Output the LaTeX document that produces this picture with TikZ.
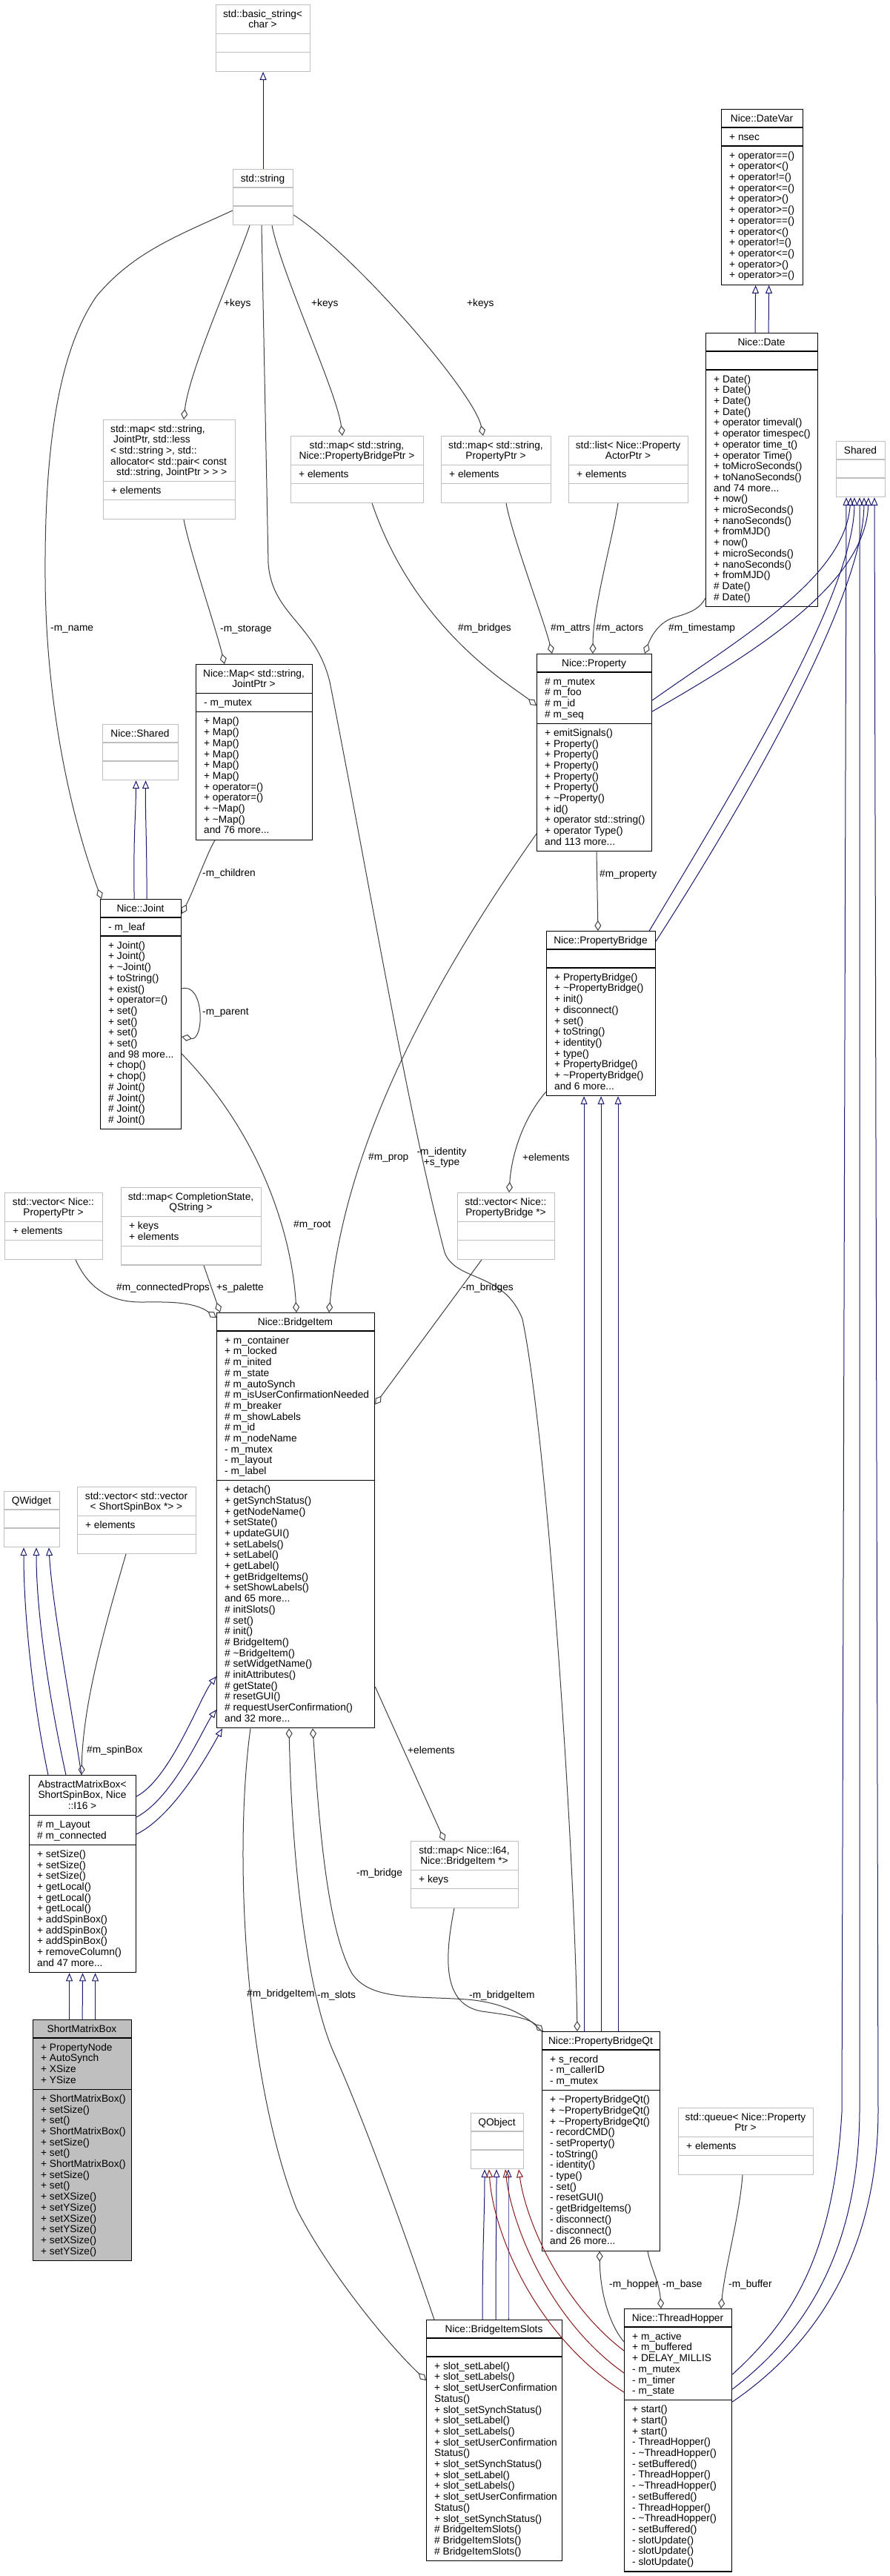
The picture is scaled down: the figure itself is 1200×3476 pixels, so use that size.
\documentclass[tikz,border=0pt]{standalone}
\usepackage{fontspec}
\setmainfont{Liberation Sans}
\usetikzlibrary{arrows.meta,calc}
\definecolor{midblue}{HTML}{191970}
\definecolor{firered}{HTML}{8B1A1A}
\definecolor{edgegray}{HTML}{404040}
\definecolor{boxgray}{HTML}{BFBFBF}
\newcommand\umlbox[9]{%
  \pgfmathsetmacro\ubA{#3+ifthenelse(#5==0,25,10.3+14.7*#5)}%
  \pgfmathsetmacro\ubB{\ubA+ifthenelse(#6==0,25,10.3+14.7*#6)}%
  \pgfmathsetmacro\ubC{\ubB+ifthenelse(#7==0,25,10.3+14.7*#7)}%
  \pgfmathsetmacro\ubW{#4-#2}%
  \pgfmathsetmacro\ubH{\ubC-#3}%
  \node[#8, minimum width=\ubW pt, minimum height=\ubH pt, anchor=north west] (#1) at (#2,#3) {};
  \draw[#8ln] (#2,\ubA) -- (#4,\ubA) (#2,\ubB) -- (#4,\ubB);
  \node[txt, anchor=north, align=center] (#1-t) at ({(#2+#4)/2},{#3+6.7}) {\strut #9};
  \coordinate (#1-a) at ({#2+11},{\ubA+6.7});
  \coordinate (#1-m) at ({#2+11},{\ubB+6.7});
}
\newcommand\umlattr[2]{\node[txt, anchor=north west, align=left] (#1-at) at (#1-a) {\strut #2};}
\newcommand\umlmeth[2]{\node[txt, anchor=north west, align=left] (#1-mt) at (#1-m) {\strut #2};}
\begin{document}
\begin{tikzpicture}[x=1pt,y=-1pt,
  txt/.style={inner sep=0pt, font=\fontsize{13.7}{14.7}\selectfont},
  lbl/.style={txt, anchor=west},
  clsdoc/.style={draw=black, fill=white, line width=1.2pt, rectangle, inner sep=0pt},
  clsdocln/.style={draw=black, line width=1.2pt},
  clsext/.style={draw=boxgray, fill=white, line width=1.2pt, rectangle, inner sep=0pt},
  clsextln/.style={draw=boxgray, line width=1.2pt},
  clsmain/.style={draw=black, fill=boxgray, line width=1.2pt, rectangle, inner sep=0pt},
  clsmainln/.style={draw=black, line width=1.2pt},
  inh/.style={draw=midblue, line width=1pt, -{Triangle[open, length=11pt, width=9pt]}},
  inhp/.style={draw=firered, line width=1pt, -{Triangle[open, length=11pt, width=9pt]}},
  agg/.style={draw=edgegray, line width=1pt, {Diamond[open, length=14pt, width=9pt]}-},
  plainedge/.style={draw=edgegray, line width=1pt},
]
\fill[white] (0,0) rectangle (1200,3476);
\useasboundingbox (0,0) rectangle (1200,3476);

% ---------------- boxes ----------------
\umlbox{bstr}{291}{6}{418}{2}{0}{0}{clsext}{std::basic\_string<\\char >}
\umlbox{str}{314}{228}{395}{1}{0}{0}{clsext}{std::string}

\umlbox{datevar}{973}{147}{1083}{1}{1}{12}{clsdoc}{Nice::DateVar}
\umlattr{datevar}{+ nsec}
\umlmeth{datevar}{+ operator==()\\+ operator<()\\+ operator!=()\\+ operator<=()\\+ operator>()\\+ operator>=()\\+ operator==()\\+ operator<()\\+ operator!=()\\+ operator<=()\\+ operator>()\\+ operator>=()}

\umlbox{date}{952}{449}{1103}{1}{0}{21}{clsdoc}{Nice::Date}
\umlmeth{date}{+ Date()\\+ Date()\\+ Date()\\+ Date()\\+ operator timeval()\\+ operator timespec()\\+ operator time\_t()\\+ operator Time()\\+ toMicroSeconds()\\+ toNanoSeconds()\\and 74 more...\\+ now()\\+ microSeconds()\\+ nanoSeconds()\\+ fromMJD()\\+ now()\\+ microSeconds()\\+ nanoSeconds()\\+ fromMJD()\\\# Date()\\\# Date()}

\umlbox{shared}{1128}{595}{1194}{1}{0}{0}{clsext}{Shared}

\umlbox{mapj}{139}{566}{317}{5}{1}{0}{clsext}{}
\node[txt, anchor=north west, align=left] (mapj-tt) at ($(mapj.north west)+(10,6.7)$) {\strut std::map< std::string,\\\hspace*{4pt}JointPtr, std::less\\< std::string >, std::\\allocator< std::pair< const\\\hspace*{8pt}std::string, JointPtr > > >};
\umlattr{mapj}{+ elements}

\umlbox{mappb}{392}{588}{571}{2}{1}{0}{clsext}{std::map< std::string,\\ Nice::PropertyBridgePtr >}
\umlattr{mappb}{+ elements}
\umlbox{mapp}{595}{588}{743}{2}{1}{0}{clsext}{std::map< std::string,\\PropertyPtr >}
\umlattr{mapp}{+ elements}
\umlbox{listpa}{767}{588}{928}{2}{1}{0}{clsext}{std::list< Nice::Property\\ActorPtr >}
\umlattr{listpa}{+ elements}

\umlbox{nmap}{264}{896}{421}{2}{1}{11}{clsdoc}{Nice::Map< std::string,\\JointPtr >}
\umlattr{nmap}{- m\_mutex}
\umlmeth{nmap}{+ Map()\\+ Map()\\+ Map()\\+ Map()\\+ Map()\\+ Map()\\+ operator=()\\+ operator=()\\+ \textasciitilde Map()\\+ \textasciitilde Map()\\and 76 more...}

\umlbox{nshared}{138}{977}{240}{1}{0}{0}{clsext}{Nice::Shared}

\umlbox{joint}{135}{1213}{244}{1}{1}{17}{clsdoc}{Nice::Joint}
\umlattr{joint}{- m\_leaf}
\umlmeth{joint}{+ Joint()\\+ Joint()\\+ \textasciitilde Joint()\\+ toString()\\+ exist()\\+ operator=()\\+ set()\\+ set()\\+ set()\\+ set()\\and 98 more...\\+ chop()\\+ chop()\\\# Joint()\\\# Joint()\\\# Joint()\\\# Joint()}

\umlbox{prop}{724}{882}{879}{1}{4}{11}{clsdoc}{Nice::Property}
\umlattr{prop}{\# m\_mutex\\\# m\_foo\\\# m\_id\\\# m\_seq}
\umlmeth{prop}{+ emitSignals()\\+ Property()\\+ Property()\\+ Property()\\+ Property()\\+ Property()\\+ \textasciitilde Property()\\+ id()\\+ operator std::string()\\+ operator Type()\\and 113 more...}

\umlbox{pbridge}{737}{1256}{884}{1}{0}{11}{clsdoc}{Nice::PropertyBridge}
\umlmeth{pbridge}{+ PropertyBridge()\\+ \textasciitilde PropertyBridge()\\+ init()\\+ disconnect()\\+ set()\\+ toString()\\+ identity()\\+ type()\\+ PropertyBridge()\\+ \textasciitilde PropertyBridge()\\and 6 more...}

\umlbox{vecp}{6}{1609}{138}{2}{1}{0}{clsext}{std::vector< Nice::\\PropertyPtr >}
\umlattr{vecp}{+ elements}
\umlbox{mapcs}{163}{1602}{352}{2}{2}{0}{clsext}{std::map< CompletionState,\\QString >}
\umlattr{mapcs}{+ keys\\+ elements}
\umlbox{vecpb}{617}{1609}{748}{2}{0}{0}{clsext}{std::vector< Nice::\\PropertyBridge *>}

\umlbox{bitem}{292}{1771}{505}{1}{13}{22}{clsdoc}{Nice::BridgeItem}
\umlattr{bitem}{+ m\_container\\+ m\_locked\\\# m\_inited\\\# m\_state\\\# m\_autoSynch\\\# m\_isUserConfirmationNeeded\\\# m\_breaker\\\# m\_showLabels\\\# m\_id\\\# m\_nodeName\\- m\_mutex\\- m\_layout\\- m\_label}
\umlmeth{bitem}{+ detach()\\+ getSynchStatus()\\+ getNodeName()\\+ setState()\\+ updateGUI()\\+ setLabels()\\+ setLabel()\\+ getLabel()\\+ getBridgeItems()\\+ setShowLabels()\\and 65 more...\\\# initSlots()\\\# set()\\\# init()\\\# BridgeItem()\\\# \textasciitilde BridgeItem()\\\# setWidgetName()\\\# initAttributes()\\\# getState()\\\# resetGUI()\\\# requestUserConfirmation()\\and 32 more...}

\umlbox{qwidget}{5}{2012}{80}{1}{0}{0}{clsext}{QWidget}
\umlbox{vecvec}{104}{2006}{264}{2}{1}{0}{clsext}{std::vector< std::vector\\< ShortSpinBox *> >}
\umlattr{vecvec}{+ elements}

\umlbox{amb}{39}{2395}{183}{3}{2}{11}{clsdoc}{AbstractMatrixBox<\\ShortSpinBox, Nice\\::I16 >}
\umlattr{amb}{\# m\_Layout\\\# m\_connected}
\umlmeth{amb}{+ setSize()\\+ setSize()\\+ setSize()\\+ getLocal()\\+ getLocal()\\+ getLocal()\\+ addSpinBox()\\+ addSpinBox()\\+ addSpinBox()\\+ removeColumn()\\and 47 more...}

\umlbox{smb}{44}{2725}{177}{1}{4}{15}{clsmain}{ShortMatrixBox}
\umlattr{smb}{+ PropertyNode\\+ AutoSynch\\+ XSize\\+ YSize}
\umlmeth{smb}{+ ShortMatrixBox()\\+ setSize()\\+ set()\\+ ShortMatrixBox()\\+ setSize()\\+ set()\\+ ShortMatrixBox()\\+ setSize()\\+ set()\\+ setXSize()\\+ setYSize()\\+ setXSize()\\+ setYSize()\\+ setXSize()\\+ setYSize()}

\umlbox{mapi64}{554}{2484}{699}{2}{1}{0}{clsext}{std::map< Nice::I64,\\ Nice::BridgeItem *>}
\umlattr{mapi64}{+ keys}

\umlbox{pbqt}{731}{2741}{890}{1}{3}{14}{clsdoc}{Nice::PropertyBridgeQt}
\umlattr{pbqt}{+ s\_record\\- m\_callerID\\- m\_mutex}
\umlmeth{pbqt}{+ \textasciitilde PropertyBridgeQt()\\+ \textasciitilde PropertyBridgeQt()\\+ \textasciitilde PropertyBridgeQt()\\- recordCMD()\\- setProperty()\\- toString()\\- identity()\\- type()\\- set()\\- resetGUI()\\- getBridgeItems()\\- disconnect()\\- disconnect()\\and 26 more...}

\umlbox{qobject}{635}{2851}{706}{1}{0}{0}{clsext}{QObject}
\umlbox{queue}{915}{2844}{1097}{2}{1}{0}{clsext}{std::queue< Nice::Property\\Ptr >}
\umlattr{queue}{+ elements}

\umlbox{bis}{575}{3130}{758}{1}{0}{18}{clsdoc}{Nice::BridgeItemSlots}
\umlmeth{bis}{+ slot\_setLabel()\\+ slot\_setLabels()\\+ slot\_setUserConfirmation\\Status()\\+ slot\_setSynchStatus()\\+ slot\_setLabel()\\+ slot\_setLabels()\\+ slot\_setUserConfirmation\\Status()\\+ slot\_setSynchStatus()\\+ slot\_setLabel()\\+ slot\_setLabels()\\+ slot\_setUserConfirmation\\Status()\\+ slot\_setSynchStatus()\\\# BridgeItemSlots()\\\# BridgeItemSlots()\\\# BridgeItemSlots()}

\umlbox{th}{842}{3115}{987}{1}{6}{15}{clsdoc}{Nice::ThreadHopper}
\umlattr{th}{+ m\_active\\+ m\_buffered\\+ DELAY\_MILLIS\\- m\_mutex\\- m\_timer\\- m\_state}
\umlmeth{th}{+ start()\\+ start()\\+ start()\\- ThreadHopper()\\- \textasciitilde ThreadHopper()\\- setBuffered()\\- ThreadHopper()\\- \textasciitilde ThreadHopper()\\- setBuffered()\\- ThreadHopper()\\- \textasciitilde ThreadHopper()\\- setBuffered()\\- slotUpdate()\\- slotUpdate()\\- slotUpdate()}

% ---------------- inheritance ----------------
\draw[inh] (str.north) -- (bstr.south);
\draw[inh] ($(date.north)+(-9,0)$) -- ($(datevar.south)+(-9,0)$);
\draw[inh] ($(date.north)+(9,0)$) -- ($(datevar.south)+(9,0)$);
\draw[inh] ($(joint.north)+(-9,0)$) .. controls (180,1120) and (183,1110) .. ($(nshared.south)+(-6,0)$);
\draw[inh] ($(joint.north)+(8,0)$) .. controls (198,1120) and (196,1110) .. ($(nshared.south)+(7,0)$);

\draw[inh] ($(prop.north east)+(0,63)$) .. controls (1000,860) and (1140,780) .. ($(shared.south west)+(20,0)$);
\draw[inh] ($(prop.north east)+(0,78)$) .. controls (1010,885) and (1168,790) .. ($(shared.south west)+(44,0)$);
\draw[inh] ($(pbridge.north east)+(-9,0)$) .. controls (1000,1050) and (1152,800) .. ($(shared.south west)+(25,0)$);
\draw[inh] ($(pbridge.north east)+(0,14)$) .. controls (1020,1060) and (1165,800) .. ($(shared.south west)+(38,0)$);
\draw[inh] ($(th.north east)+(0,89)$) .. controls (1070,3130) and (1125,3040) .. (1136,2850) -- ($(shared.south west)+(14,0)$);
\draw[inh] ($(th.north east)+(0,109)$) .. controls (1085,3150) and (1158,3040) .. (1160,2850) -- ($(shared.south west)+(32,0)$);
\draw[inh] ($(th.north east)+(0,126)$) .. controls (1100,3165) and (1184,3040) .. (1185,2850) -- ($(shared.south west)+(52,0)$);

\draw[inh] ($(pbqt.north)+(-23,0)$) -- ($(pbridge.south)+(-23,0)$);
\draw[inh] (pbqt.north) -- (pbridge.south);
\draw[inh] ($(pbqt.north)+(23,0)$) -- ($(pbridge.south)+(23,0)$);

\draw[inh] ($(amb.north west)+(26,0)$) .. controls (45,2300) and (32,2180) .. ($(qwidget.south west)+(27,0)$);
\draw[inh] ($(amb.north west)+(50,0)$) .. controls (68,2300) and (49,2180) .. ($(qwidget.south west)+(44,0)$);
\draw[inh] ($(amb.north west)+(71,0)$) .. controls (92,2280) and (70,2160) .. ($(qwidget.south west)+(61,0)$);

\draw[inh] ($(amb.north east)+(0,29)$) .. controls (230,2400) and (270,2290) .. ($(bitem.north west)+(0,491)$);
\draw[inh] ($(amb.north east)+(0,57)$) .. controls (235,2425) and (275,2330) .. ($(bitem.north west)+(0,536)$);
\draw[inh] ($(amb.north east)+(0,80)$) .. controls (235,2450) and (282,2365) .. ($(bitem.south west)+(8,0)$);

\draw[inh] ($(smb.north)+(-17.5,0)$) -- ($(amb.south)+(-18,0)$);
\draw[inh] (smb.north) -- (amb.south);
\draw[inh] ($(smb.north)+(17.5,0)$) -- ($(amb.south)+(17,0)$);

\draw[inh] ($(bis.north west)+(76,0)$) .. controls (651,3030) and (654,2990) .. ($(qobject.south west)+(19,0)$);
\draw[inh] ($(bis.north west)+(94,0)$) .. controls (669,3030) and (670,2990) .. ($(qobject.south west)+(35,0)$);
\draw[inh] ($(bis.north west)+(111,0)$) .. controls (686,3030) and (686,2990) .. ($(qobject.south west)+(51,0)$);

\draw[inhp] ($(th.north west)+(0,57)$) .. controls (760,3110) and (710,3000) .. ($(qobject.south west)+(65,0)$);
\draw[inhp] ($(th.north west)+(0,87)$) .. controls (740,3130) and (690,3000) .. ($(qobject.south west)+(47,0)$);
\draw[inhp] ($(th.north west)+(0,113)$) .. controls (720,3150) and (665,3010) .. ($(qobject.south west)+(25,0)$);

% ---------------- aggregation / usage ----------------
\draw[agg] ($(mapj.north west)+(109,0)$) .. controls (255,500) and (318,360) .. ($(str.south west)+(23,0)$);
\draw[agg] ($(mappb.north west)+(70,0)$) .. controls (455,530) and (380,370) .. ($(str.south west)+(53,0)$);
\draw[agg] ($(mapp.north west)+(57,0)$) .. controls (640,530) and (480,345) .. ($(str.north east)+(0,62)$);
\draw[agg] ($(pbqt.north west)+(48,0)$) .. controls (775,2500) and (740,1950) .. (705,1780) .. controls (680,1715) and (615,1730) .. (600,1690) .. controls (550,1500) and (500,1200) .. (445,920) .. controls (425,840) and (367,830) .. (362,760) -- ($(str.south west)+(39,0)$);
\draw[agg] ($(joint.north west)+(2,0)$) .. controls (95,1100) and (62,950) .. (61,780) .. controls (60,620) and (75,480) .. (130,400) .. controls (180,340) and (240,318) .. ($(str.north west)+(0,56)$);
\draw[agg] ($(nmap.north west)+(39,0)$) .. controls (292,850) and (255,740) .. ($(mapj.south west)+(109,0)$);
\draw[agg] ($(joint.north east)+(0,20)$) .. controls (262,1200) and (280,1150) .. ($(nmap.south west)+(26,0)$);
\draw[agg] ($(joint.north east)+(0,186)$) .. controls (276,1405) and (276,1325) .. ($(joint.north east)+(0,121)$);
\draw[agg] ($(bitem.north west)+(108,0)$) .. controls (395,1680) and (360,1540) .. ($(joint.north east)+(0,209)$);
\draw[agg] ($(prop.north west)+(21,0)$) .. controls (735,840) and (690,720) .. ($(mapp.south west)+(88,0)$);
\draw[agg] ($(prop.north west)+(76,0)$) .. controls (800,820) and (826,730) .. ($(listpa.south west)+(67,0)$);
\draw[agg] ($(prop.north west)+(146,0)$) .. controls (878,860) and (888,840) .. (910,833) .. controls (935,826) and (945,820) .. ($(date.north west)+(0,358)$);
\draw[agg] ($(prop.north west)+(0,70)$) .. controls (690,925) and (560,850) .. ($(mappb.south west)+(110,0)$);
\draw[agg] ($(pbridge.north west)+(70,0)$) -- ($(prop.south west)+(81,0)$);
\draw[agg] ($(bitem.north west)+(152,0)$) .. controls (460,1600) and (530,1400) .. ($(prop.north west)+(0,243)$);
\draw[agg] ($(vecpb.north west)+(70,0)$) .. controls (690,1560) and (705,1510) .. ($(pbridge.north west)+(0,217)$);
\draw[agg] ($(bitem.north east)+(0,124)$) -- ($(vecpb.south west)+(33,0)$);
\draw[agg] ($(bitem.north west)+(0,7)$) .. controls (260,1755) and (220,1757) .. (190,1757) .. controls (150,1757) and (120,1740) .. ($(vecp.south west)+(96,0)$);
\draw[agg] ($(bitem.north west)+(5,0)$) -- ($(mapcs.south west)+(112,0)$);
\draw[agg] ($(amb.north west)+(71,0)$) .. controls (112,2300) and (140,2200) .. ($(vecvec.south west)+(66,0)$);
\draw[agg] ($(mapi64.north west)+(46,0)$) -- ($(bitem.north east)+(0,505)$);
\draw[agg] ($(pbqt.north west)+(2,0)$) .. controls (712,2722) and (680,2718) .. (650,2714) .. controls (600,2705) and (598,2650) .. ($(mapi64.south west)+(59,0)$);
\draw[agg] ($(bitem.south west)+(130,0)$) .. controls (430,2450) and (440,2600) .. (475,2663) .. controls (500,2700) and (560,2693) .. (630,2698) .. controls (680,2702) and (712,2720) .. (pbqt.north west);
\draw[agg] ($(bitem.south west)+(98,0)$) .. controls (395,2550) and (420,2700) .. (450,2769) .. controls (500,2880) and (562,3060) .. ($(bis.north west)+(11,0)$);
\draw[agg] ($(bis.north west)+(0,82)$) .. controls (520,3160) and (440,3060) .. (400,2980) .. controls (330,2800) and (315,2500) .. ($(bitem.south west)+(46,0)$);
\draw[agg] ($(pbqt.south west)+(78,0)$) .. controls (810,3100) and (825,3140) .. ($(th.north west)+(0,45)$);
\draw[agg] ($(th.north west)+(50,0)$) .. controls (890,3080) and (878,3060) .. ($(pbqt.south west)+(143,0)$);
\draw[agg] ($(th.north west)+(131,0)$) .. controls (978,3060) and (998,2990) .. ($(queue.south west)+(87,0)$);

% ---------------- labels ----------------
\node[lbl] (lkeys1) at (302,410) {+keys};
\node[lbl] (lkeys2) at (420,410) {+keys};
\node[lbl] (lkeys3) at (630,410) {+keys};
\node[lbl] (lname) at (68,849) {-m\_name};
\node[lbl] (lstorage) at (297,849) {-m\_storage};
\node[lbl] (lchildren) at (273,1179) {-m\_children};
\node[lbl] (lparent) at (273,1366) {-m\_parent};
\node[lbl] (lroot) at (396,1653) {\#m\_root};
\node[lbl] (lattrs) at (743,848) {\#m\_attrs};
\node[lbl] (lactors) at (804,848) {\#m\_actors};
\node[lbl] (ltimestamp) at (902,848) {\#m\_timestamp};
\node[lbl] (lbridges) at (618,848) {\#m\_bridges};
\node[lbl] (lproperty) at (809,1180) {\#m\_property};
\node[lbl] (lprop) at (497,1562) {\#m\_prop};
\node[txt, align=center] (lidentity) at (596,1562) {-m\_identity\\+s\_type};
\node[lbl] (lelem1) at (705,1562) {+elements};
\node[lbl] (lconn) at (157,1738) {\#m\_connectedProps};
\node[lbl] (lpalette) at (292,1738) {+s\_palette};
\node[lbl] (lbridges2) at (624,1738) {-m\_bridges};
\node[lbl] (lspin) at (117,2362) {\#m\_spinBox};
\node[lbl] (lelem2) at (550,2362) {+elements};
\node[lbl] (lbridge) at (481,2528) {-m\_bridge};
\node[lbl] (lslots) at (428,2693) {-m\_slots};
\node[lbl] (lbitem) at (333,2691) {\#m\_bridgeItem};
\node[lbl] (lbitem2) at (633,2693) {-m\_bridgeItem};
\node[lbl] (lhopper) at (822,3083) {-m\_hopper};
\node[lbl] (lbase) at (894,3083) {-m\_base};
\node[lbl] (lbuffer) at (983,3083) {-m\_buffer};
\end{tikzpicture}
\end{document}
